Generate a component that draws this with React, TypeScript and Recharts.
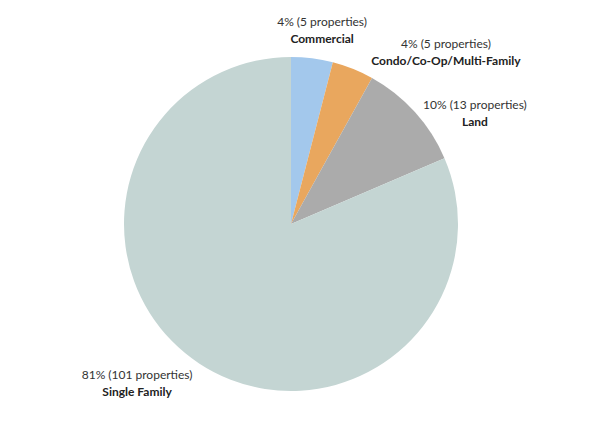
import React from 'react'
import { PieChart, Pie, Cell } from 'recharts'

const categories = ['Commercial', 'Condo/Co-Op/Multi-Family', 'Land', 'Single Family']
const propertyCounts = [5, 5, 13, 101]
const percentLabels = ['4%', '4%', '10%', '81%']

const COLORS = ['#A3C8EC', '#E9A75E', '#ABABAB', '#C4D5D3']

// label nudges from the slice edge point (style only)
const LABEL_NUDGE: Record<string, [number, number]> = {
  Commercial: [10, -28],
  'Condo/Co-Op/Multi-Family': [93, -17],
  Land: [60, 1],
  'Single Family': [-62, 20],
}

const data = categories.map((name, i) => ({
  name,
  value: propertyCounts[i],
  pct: percentLabels[i],
}))

const RADIAN = Math.PI / 180

function renderLabel(props: any) {
  const { cx, cy, midAngle, outerRadius, index } = props
  const d = data[index]
  const px = cx + outerRadius * Math.cos(-midAngle * RADIAN)
  const py = cy + outerRadius * Math.sin(-midAngle * RADIAN)
  const [nx, ny] = LABEL_NUDGE[d.name] || [0, 0]
  const x = px + nx
  const y = py + ny
  return (
    <g>
      <text
        x={x}
        y={y - 4}
        textAnchor="middle"
        fontSize={12}
        fill="#333"
        fontFamily="Lato, sans-serif"
      >
        {`${d.pct} (${d.value} properties)`}
      </text>
      <text
        x={x}
        y={y + 13}
        textAnchor="middle"
        fontSize={12}
        fontWeight="bold"
        fill="#222"
        fontFamily="Lato, sans-serif"
      >
        {d.name}
      </text>
    </g>
  )
}

export default function App() {
  return (
    <div style={{ margin: -8, width: 609, height: 424, background: '#fff' }}>
      <PieChart
        width={609}
        height={424}
        margin={{ top: 0, right: 0, bottom: 0, left: 0 }}
      >
        <Pie
          data={data}
          dataKey="value"
          cx={291}
          cy={224}
          outerRadius={167}
          startAngle={90}
          endAngle={-270}
          stroke="none"
          label={renderLabel}
          labelLine={false}
          isAnimationActive={false}
        >
          {data.map((entry, index) => (
            <Cell key={`cell-${index}`} fill={COLORS[index]} />
          ))}
        </Pie>
      </PieChart>
    </div>
  )
}
